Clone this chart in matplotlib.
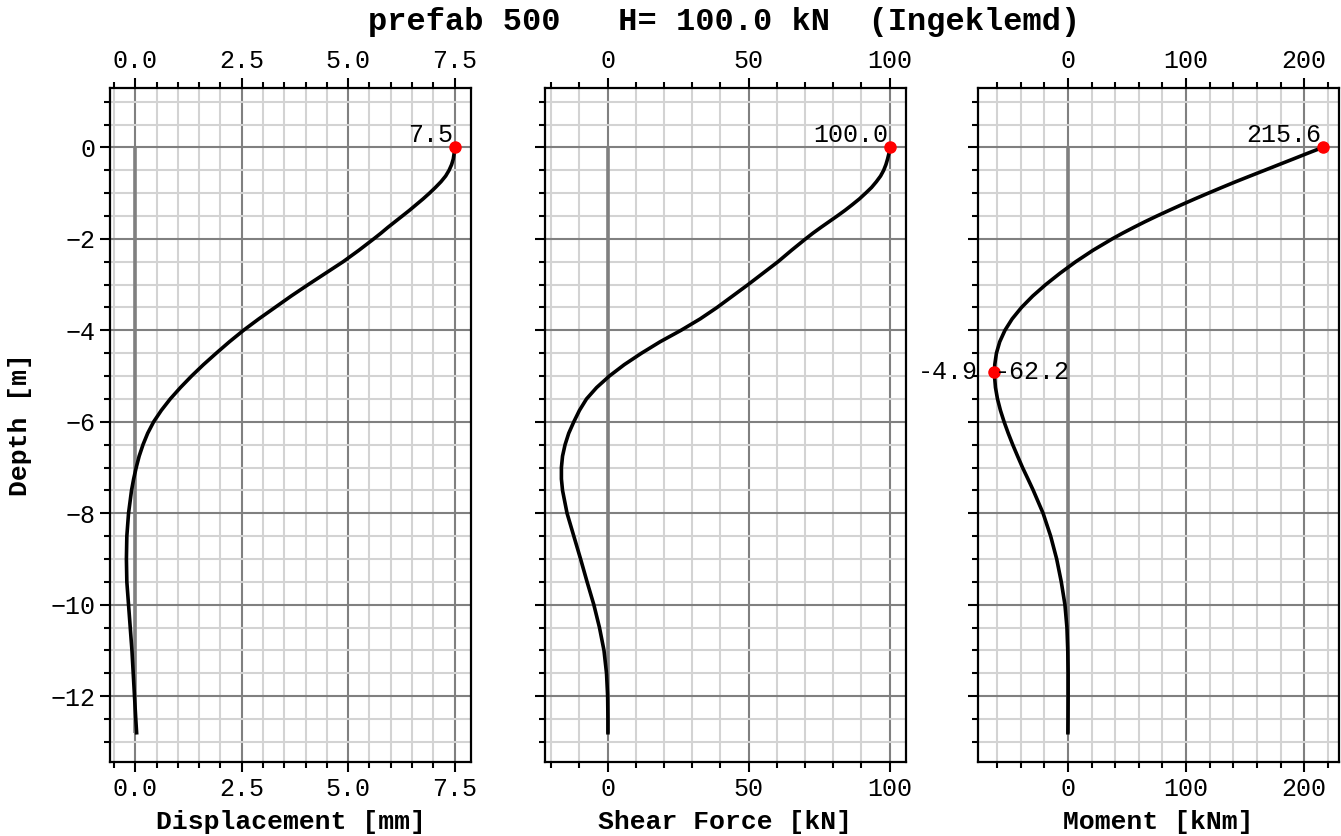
import matplotlib
matplotlib.use("Agg")
import matplotlib.pyplot as plt
from matplotlib.ticker import AutoMinorLocator, MultipleLocator

# ---------------- data ----------------
depth = [0.0, -0.125, -0.25, -0.375, -0.5, -0.625, -0.75, -0.875, -1.0,
         -1.125, -1.25, -1.375, -1.5, -1.625, -1.75, -1.875, -2.0,
         -2.25, -2.5, -2.75, -3.0, -3.25, -3.5, -3.75, -4.0, -4.25, -4.5,
         -4.75, -5.0, -5.25, -5.5, -5.75, -6.0, -6.25, -6.5, -6.75, -7.0,
         -7.25, -7.5,
         -8.0, -8.5, -9.0, -9.5, -10.0, -10.5, -11.0, -11.5, -12.0, -12.5,
         -12.8]

displacement = [7.50, 7.49, 7.47, 7.43, 7.37, 7.29, 7.18, 7.05, 6.91,
                6.76, 6.60, 6.44, 6.27, 6.10, 5.93, 5.77, 5.60,
                5.25, 4.88, 4.47, 4.06, 3.66, 3.28, 2.90, 2.54, 2.21, 1.90,
                1.60, 1.32, 1.06, 0.82, 0.61, 0.43, 0.29, 0.18, 0.09, 0.02,
                -0.04, -0.09,
                -0.16, -0.20, -0.21, -0.20, -0.16, -0.12, -0.08, -0.05, -0.02, 0.01,
                0.03]

shear = [100.0, 99.8, 99.3, 98.7, 97.9, 96.8, 95.3, 93.6, 91.5,
         89.3, 86.8, 84.2, 81.4, 78.5, 75.6, 72.8, 70.2,
         65.2, 60.4, 55.1, 49.8, 44.3, 38.8, 32.8, 26.0, 18.6, 12.0,
         5.9, 0.6, -3.9, -7.5, -10.0, -12.0, -13.8, -15.1, -16.0, -16.4,
         -16.4, -16.0,
         -14.4, -12.0, -9.6, -7.3, -4.9, -2.9, -1.3, -0.4, 0.0, 0.1,
         0.1]

moment = [215.6, 203.2, 191.0, 178.7, 166.5, 154.2, 142.0, 130.3, 118.8,
          107.5, 96.5, 85.8, 75.3, 65.2, 55.6, 46.3, 37.5,
          21.2, 6.6, -6.6, -18.8, -29.8, -39.3, -47.2, -53.3, -57.7, -60.5,
          -61.9, -62.1, -61.3, -59.6, -57.1, -54.0, -50.5, -46.7, -42.6, -38.4,
          -33.8, -29.3,
          -21.0, -14.6, -9.5, -5.6, -2.5, -0.8, -0.1, 0.2, 0.2, 0.1,
          0.0]

series = [displacement, shear, moment]
x_labels = ["Displacement [mm]", "Shear Force [kN]", "Moment [kNm]"]
y_label = "Depth [m]"
title = "prefab 500   H= 100.0 kN  (Ingeklemd)"
x_major_steps = [2.5, 50, 100]

pile_top, pile_bottom = 0.0, -12.8
max_values = [7.5, 100.0, 215.6]
max_depths = [0.0, 0.0, 0.0]
min_moment_value = -62.2
min_moment_depth = -4.9

# ---------------- style ----------------
plt.rcParams['font.family'] = ['Liberation Mono', 'DejaVu Sans Mono']
plt.rcParams['axes.unicode_minus'] = True

TICK_FS = 18
LABEL_FS = 19
TITLE_FS = 23

fig = plt.figure(figsize=(13.41, 8.36), dpi=100)
lefts = [110 / 1341, 545 / 1341, 978 / 1341]
width = 361 / 1341
bottom = 1 - 762 / 836
height = (762 - 88) / 836

axes = []
for i, vals in enumerate(series):
    ax = fig.add_axes([lefts[i], bottom, width, height],
                      sharey=axes[0] if axes else None)
    axes.append(ax)
    ax.set_axisbelow(True)
    # pile axis
    ax.plot([0, 0], [pile_top, pile_bottom], color='gray', lw=2.6, zorder=2,
            solid_capstyle='butt')
    ax.plot(vals, depth, color='black', lw=2.6, zorder=3)
    ax.plot([max_values[i]], [max_depths[i]], 'o', color='red', ms=8, zorder=4)
    ax.annotate(f"{max_values[i]:.1f}", (max_values[i], max_depths[i]),
                xytext=(-1, 0), textcoords='offset points',
                ha='right', va='bottom', fontsize=TICK_FS, zorder=5)

    ax.xaxis.set_major_locator(MultipleLocator(x_major_steps[i]))
    ax.xaxis.set_minor_locator(AutoMinorLocator())
    ax.yaxis.set_major_locator(MultipleLocator(2))
    ax.yaxis.set_minor_locator(AutoMinorLocator())
    ax.grid(which='major', color='gray', lw=1.5)
    ax.grid(which='minor', color='lightgray', lw=1.5)

    ax.tick_params(axis='x', which='both', top=True, bottom=True,
                   labeltop=True, labelbottom=True, direction='out')
    ax.tick_params(axis='y', which='both', left=True, right=False,
                   labelleft=(i == 0), direction='out')
    ax.tick_params(which='major', length=7, width=1.5, labelsize=TICK_FS)
    ax.tick_params(which='minor', length=4, width=1.5)
    for sp in ax.spines.values():
        sp.set_linewidth(1.6)
    ax.set_xlabel(x_labels[i], fontsize=LABEL_FS, fontweight='bold',
                  labelpad=7)

# minimum moment marker
ax3 = axes[2]
ax3.plot([min_moment_value], [min_moment_depth], 'o', color='red', ms=8, zorder=4)
ax3.annotate(f"{min_moment_value:.1f}", (min_moment_value, min_moment_depth),
             xytext=(0, 0), textcoords='offset points',
             ha='left', va='center', fontsize=TICK_FS, zorder=5)
ax3.annotate(f"{min_moment_depth:.1f}", (min_moment_value, min_moment_depth),
             xytext=(-12, 0), textcoords='offset points',
             ha='right', va='center', fontsize=TICK_FS, zorder=5,
             annotation_clip=False)

axes[0].set_ylim(-13.44, 1.3)
axes[0].set_ylabel(y_label, fontsize=LABEL_FS, fontweight='bold', labelpad=13)

fig.suptitle(title, fontsize=TITLE_FS, fontweight='bold',
             x=724 / 1341, y=0.974, va='center')

fig.savefig("out.png", dpi=100)
